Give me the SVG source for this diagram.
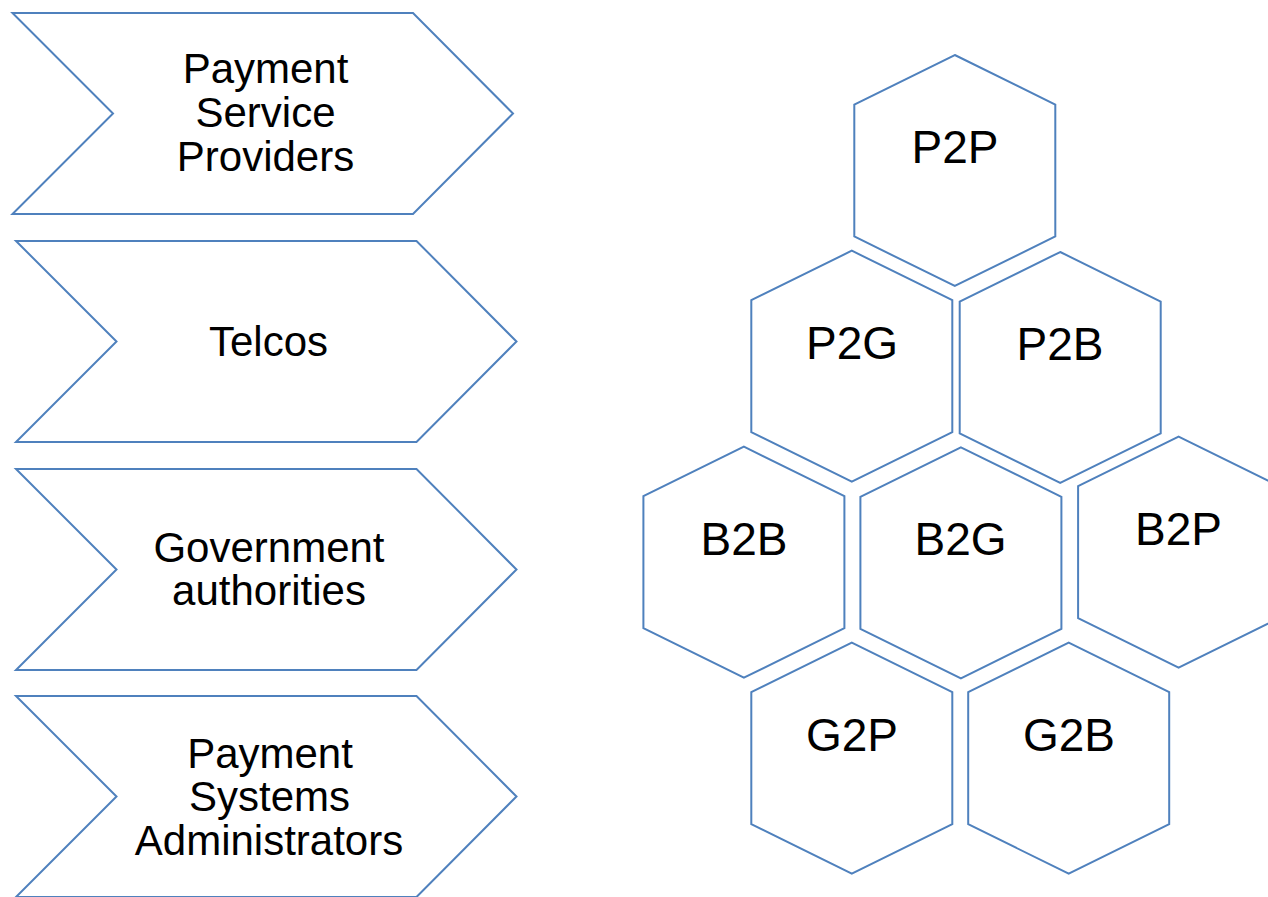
<svg xmlns="http://www.w3.org/2000/svg" width="1268" height="897" viewBox="0 0 1268 897">
  <style>
    .shape { fill: #ffffff; stroke: #4f81bd; stroke-width: 2; stroke-linejoin: miter; }
    .lbl { font-family: "Liberation Sans", Arial, sans-serif; fill: #000000; text-anchor: middle; }
    .chev-lbl { font-size: 42px; }
    .hex-lbl { font-size: 46px; }
  </style>
  <defs>
    <!-- chevron: 500 wide, 201 tall, notch/tip depth 100 -->
    <polygon id="chevron" points="0,0 400.5,0 500.5,100.5 400.5,201 0,201 100.5,100.5"/>
    <!-- hexagon: 201 wide, 231 tall, pointy top -->
    <polygon id="hexagon" points="100.5,0 201,49.5 201,181.5 100.5,231 0,181.5 0,49.5"/>
  </defs>

  <!-- participant chevrons -->
  <g id="psp">
    <use href="#chevron" class="shape" x="12.5" y="13"/>
    <text class="lbl chev-lbl" x="265.5" y="83">Payment</text>
    <text class="lbl chev-lbl" x="265.5" y="127">Service</text>
    <text class="lbl chev-lbl" x="265.5" y="171">Providers</text>
  </g>
  <g id="telcos">
    <use href="#chevron" class="shape" x="16" y="241"/>
    <text class="lbl chev-lbl" x="268.5" y="356">Telcos</text>
  </g>
  <g id="government">
    <use href="#chevron" class="shape" x="16" y="469"/>
    <text class="lbl chev-lbl" x="269" y="562">Government</text>
    <text class="lbl chev-lbl" x="269" y="605">authorities</text>
  </g>
  <g id="psa">
    <use href="#chevron" class="shape" x="16" y="696"/>
    <text class="lbl chev-lbl" x="270" y="768">Payment</text>
    <text class="lbl chev-lbl" x="269.5" y="811">Systems</text>
    <text class="lbl chev-lbl" x="269" y="855">Administrators</text>
  </g>

  <!-- payment flow hexagons -->
  <g id="p2p">
    <use href="#hexagon" class="shape" x="854.3" y="55"/>
    <text class="lbl hex-lbl" x="955" y="163">P2P</text>
  </g>
  <g id="p2g">
    <use href="#hexagon" class="shape" x="751.3" y="250.7"/>
    <text class="lbl hex-lbl" x="852" y="359">P2G</text>
  </g>
  <g id="p2b">
    <use href="#hexagon" class="shape" x="959.7" y="252"/>
    <text class="lbl hex-lbl" x="1060" y="360">P2B</text>
  </g>
  <g id="b2b">
    <use href="#hexagon" class="shape" x="643.4" y="446.7"/>
    <text class="lbl hex-lbl" x="744" y="555">B2B</text>
  </g>
  <g id="b2g">
    <use href="#hexagon" class="shape" x="860.4" y="447.3"/>
    <text class="lbl hex-lbl" x="960.5" y="555">B2G</text>
  </g>
  <g id="b2p">
    <use href="#hexagon" class="shape" x="1078.1" y="436.7"/>
    <text class="lbl hex-lbl" x="1178.5" y="545">B2P</text>
  </g>
  <g id="g2p">
    <use href="#hexagon" class="shape" x="751.3" y="642.7"/>
    <text class="lbl hex-lbl" x="852" y="751">G2P</text>
  </g>
  <g id="g2b">
    <use href="#hexagon" class="shape" x="968.2" y="642.7"/>
    <text class="lbl hex-lbl" x="1069" y="751">G2B</text>
  </g>

  <g id="connectors"/>
</svg>
